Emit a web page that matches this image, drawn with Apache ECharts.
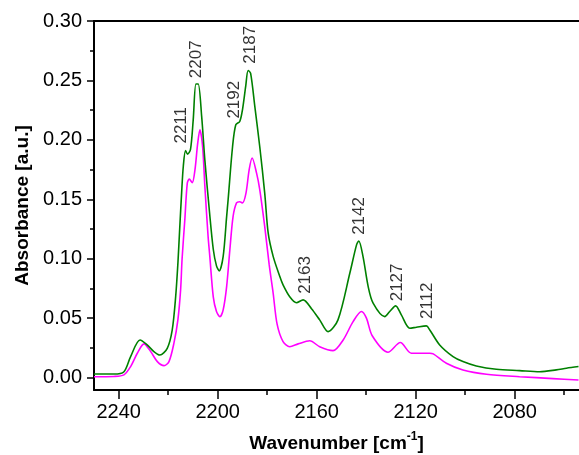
<!DOCTYPE html>
<html>
<head>
<meta charset="utf-8">
<script src="https://cdn.jsdelivr.net/npm/echarts@6/dist/echarts.min.js"></script>
<style>
html,body{margin:0;padding:0;background:#fff;}
#c{width:579px;height:455px;}
</style>
</head>
<body>
<div id="c"></div>
<script>
// Green spectrum
const greenWavenumber = [2250.0,2241.9,2237.9,2235.2,2231.4,2228.5,2225.8,2223.4,2220.4,2218.4,2217.0,2216.1,2215.4,2214.6,2213.9,2213.0,2212.2,2211.0,2209.9,2208.8,2207.9,2206.5,2205.2,2203.4,2201.8,2200.5,2199.4,2197.8,2196.4,2195.8,2194.0,2192.7,2191.1,2190.0,2188.7,2187.7,2186.7,2185.0,2183.0,2181.0,2179.6,2177.6,2174.9,2173.6,2170.9,2168.2,2165.5,2162.1,2158.8,2155.4,2151.4,2146.6,2143.9,2143.0,2141.3,2139.2,2137.2,2132.5,2130.5,2128.1,2125.8,2122.4,2119.7,2115.7,2114.3,2110.3,2104.9,2100.9,2095.5,2087.4,2078.0,2069.9,2063.2,2059.1,2054.2];
const greenAbsorbance = [0.003,0.003,0.005,0.0177,0.0317,0.0275,0.0219,0.019,0.0247,0.040,0.068,0.096,0.124,0.155,0.178,0.191,0.188,0.192,0.217,0.247,0.247,0.220,0.183,0.141,0.108,0.094,0.0898,0.102,0.1355,0.1496,0.1944,0.2127,0.2155,0.2253,0.245,0.2584,0.256,0.228,0.194,0.155,0.1215,0.102,0.085,0.078,0.068,0.063,0.0654,0.058,0.0486,0.0387,0.0486,0.088,0.1117,0.115,0.102,0.0766,0.0626,0.0513,0.0556,0.0604,0.0528,0.0416,0.0424,0.0435,0.0401,0.0275,0.0177,0.0135,0.0098,0.007,0.0059,0.005,0.0065,0.0079,0.0093];

// Magenta spectrum
const magentaWavenumber = [2250.0,2241.9,2237.9,2235.2,2232.5,2229.8,2227.1,2224.4,2221.7,2219.7,2217.7,2216.1,2215.0,2214.4,2213.3,2212.3,2211.5,2210.3,2209.2,2208.1,2207.2,2206.1,2205.2,2203.9,2203.2,2201.8,2200.5,2199.1,2197.8,2196.4,2195.1,2193.8,2192.4,2191.1,2190.0,2188.6,2187.3,2186.1,2184.3,2183.0,2181.0,2179.2,2177.6,2176.0,2173.6,2170.9,2167.5,2162.8,2158.8,2153.4,2149.3,2145.3,2141.9,2139.9,2137.5,2131.2,2126.2,2121.7,2114.3,2112.9,2107.6,2100.9,2091.4,2078.0,2064.5,2054.2];
const magentaAbsorbance = [0.0008,0.001,0.0023,0.0093,0.0205,0.0284,0.0219,0.0135,0.0101,0.0135,0.029,0.0486,0.0738,0.100,0.1327,0.1636,0.167,0.164,0.1748,0.197,0.2085,0.194,0.161,0.119,0.102,0.068,0.0556,0.0513,0.057,0.0766,0.1075,0.1355,0.147,0.148,0.147,0.155,0.1748,0.1847,0.172,0.158,0.127,0.095,0.071,0.045,0.0303,0.026,0.0284,0.031,0.026,0.0227,0.0317,0.0471,0.0556,0.05,0.035,0.0214,0.0295,0.0205,0.0205,0.02,0.0121,0.0065,0.0029,0.0008,-0.0008,-0.002];

// Peak annotations (text, label centre wavenumber, label centre absorbance)
const peakLabels = ['2211','2207','2192','2187','2163','2142','2127','2112'];
const peakLabelWavenumber = [2214.9,2208.6,2193.3,2187.0,2164.6,2142.8,2127.3,2115.5];
const peakLabelAbsorbance = [0.2123,0.2678,0.2338,0.280,0.0864,0.136,0.0801,0.0646];

// Axis ticks
const xMajorTicks = [2240,2200,2160,2120,2080];
const xMinorTicks = [2220,2180,2140,2100,2060];
const yMajorTicks = [0,0.05,0.10,0.15,0.20,0.25,0.30];
const yMinorTicks = [0.025,0.075,0.125,0.175,0.225,0.275];

const zip = (a,b) => a.map((v,i)=>[v,b[i]]);
const FONT = '"Liberation Sans", Arial, sans-serif';

const chart = echarts.init(document.getElementById('c'), null, {renderer:'canvas'});
const X_MIN = 2054, X_MAX = 2250, Y_MIN = -0.0104, Y_MAX = 0.30;

const option = {
  animation:false,
  backgroundColor:'#fff',
  grid:{left:94, top:21, right:0, bottom:65, containLabel:false, outerBoundsMode:'none'},
  xAxis:[
    {type:'value', inverse:true, min:X_MIN, max:X_MAX, position:'bottom',
     axisLine:{show:true, onZero:false, lineStyle:{color:'#000', width:2}},
     axisTick:{show:true, inside:false, length:9, lineStyle:{color:'#000', width:1.5}, customValues:xMajorTicks},
     axisLabel:{show:true, margin:12, fontSize:20, color:'#000', fontFamily:FONT, customValues:xMajorTicks, formatter:v=>String(v)},
     splitLine:{show:false},
     name:'{b|Wavenumber [cm}{s|-1}{b|]}', nameLocation:'middle', nameGap:41,
     nameTextStyle:{rich:{
       b:{fontSize:19, fontWeight:'bold', fontFamily:FONT, color:'#000', verticalAlign:'bottom', lineHeight:22},
       s:{fontSize:12, fontWeight:'bold', fontFamily:FONT, color:'#000', verticalAlign:'top', padding:[0,0,10,0], lineHeight:22}
     }}
    },
    {type:'value', inverse:true, min:X_MIN, max:X_MAX, position:'bottom', gridIndex:0,
     axisLine:{show:false, onZero:false},
     axisTick:{show:true, inside:false, length:5, lineStyle:{color:'#000', width:1.5}, customValues:xMinorTicks},
     axisLabel:{show:false}, splitLine:{show:false}},
    {type:'value', inverse:true, min:X_MIN, max:X_MAX, position:'top', gridIndex:0,
     axisLine:{show:true, onZero:false, lineStyle:{color:'#000', width:2}},
     axisTick:{show:false}, axisLabel:{show:false}, splitLine:{show:false}}
  ],
  yAxis:[
    {type:'value', min:Y_MIN, max:Y_MAX, position:'left',
     axisLine:{show:true, onZero:false, lineStyle:{color:'#000', width:2}},
     axisTick:{show:true, inside:false, length:7, lineStyle:{color:'#000', width:1.5}, customValues:yMajorTicks},
     axisLabel:{show:true, margin:12, fontSize:20, color:'#000', fontFamily:FONT, customValues:yMajorTicks, formatter:v=>v.toFixed(2)},
     splitLine:{show:false},
     name:'Absorbance [a.u.]', nameLocation:'middle', nameGap:56,
     nameTextStyle:{fontSize:19, fontWeight:'bold', fontFamily:FONT, color:'#000'}
    },
    {type:'value', min:Y_MIN, max:Y_MAX, position:'left', gridIndex:0,
     axisLine:{show:false, onZero:false},
     axisTick:{show:true, inside:false, length:4, lineStyle:{color:'#000', width:1.5}, customValues:yMinorTicks},
     axisLabel:{show:false}, splitLine:{show:false}}
  ],
  series:[
    {type:'line', name:'magenta', xAxisIndex:0, yAxisIndex:0, data:zip(magentaWavenumber, magentaAbsorbance),
     showSymbol:false, smooth:0.3, lineStyle:{color:'#ff00ff', width:1.6}, z:2},
    {type:'line', name:'green', xAxisIndex:0, yAxisIndex:0, data:zip(greenWavenumber, greenAbsorbance),
     showSymbol:false, smooth:0.3, lineStyle:{color:'#008000', width:1.6}, z:3},
    {type:'scatter', xAxisIndex:0, yAxisIndex:0, symbolSize:0, silent:true,
     data:peakLabels.map((t,i)=>({name:t, value:[peakLabelWavenumber[i], peakLabelAbsorbance[i]]})),
     label:{show:true, position:'inside', rotate:90, formatter:p=>p.name, fontSize:17, color:'#000', fontFamily:FONT, align:'center', verticalAlign:'middle'},
     z:4}
  ]
};
chart.setOption(option);
</script>
</body>
</html>
